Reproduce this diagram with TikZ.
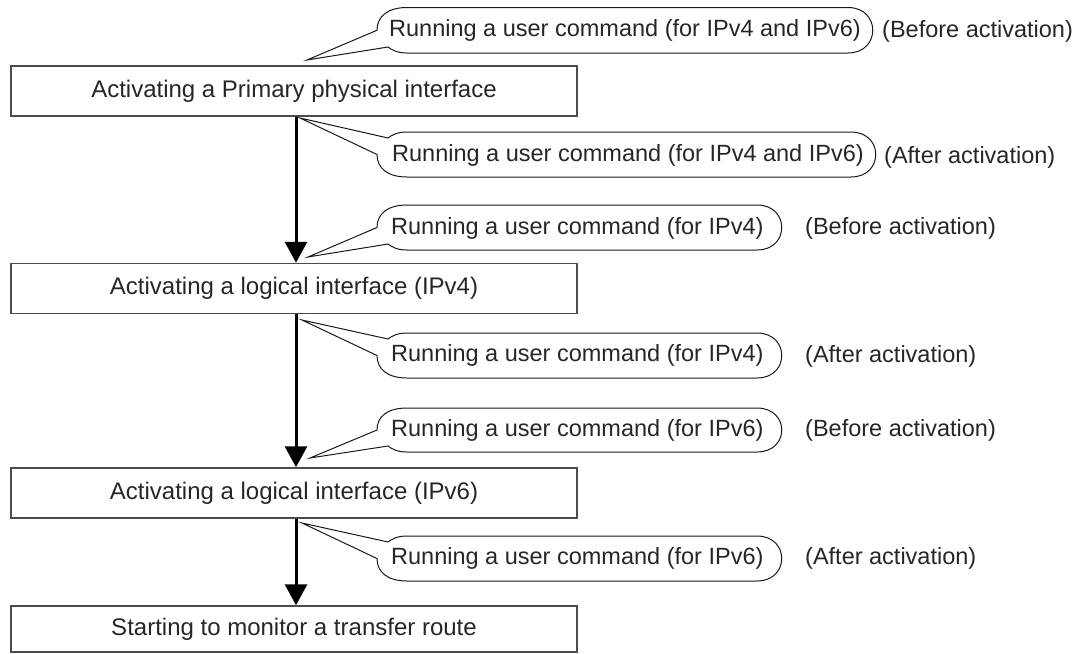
\documentclass[tikz,border=0pt]{standalone}
\usepackage{fontspec}
\setmainfont{Liberation Sans}
\usetikzlibrary{arrows.meta}
\newcommand{\balloonbefore}[4]{% #1 top, #2 bottom, #3 right, #4 tip
  \draw[balloon] (407,#1) -- ({#3-25},#1) .. controls ({#3+8},#1) and ({#3+8},#2) .. ({#3-25},#2)
    -- (407,#2) .. controls (397,#2) and (392,{#2-3}) .. (388,{#2-6}) -- (#4)
    -- (377,{(#1+#2)/2}) .. controls (377,{(#1+#2)/2-14}) and (388,#1) .. (407,#1) -- cycle;}
\newcommand{\balloonafter}[4]{% #1 top, #2 bottom, #3 right, #4 tip
  \draw[balloon] (407,#2) -- ({#3-25},#2) .. controls ({#3+8},#2) and ({#3+8},#1) .. ({#3-25},#1)
    -- (407,#1) .. controls (397,#1) and (392,{#1+3}) .. (388,{#1+6}) -- (#4)
    -- (377,{(#1+#2)/2}) .. controls (377,{(#1+#2)/2+14}) and (388,#2) .. (407,#2) -- cycle;}
\begin{document}
\begin{tikzpicture}[x=1pt,y=-1pt,
  procbox/.style={draw=black!70, line width=1.5pt, minimum width=566pt, minimum height=50pt,
    inner sep=0pt, font=\fontsize{24}{28}\selectfont, text=black!85},
  balloon/.style={draw=black!90, line width=1pt},
  btext/.style={anchor=west, inner sep=0pt, font=\fontsize{23.5}{28}\selectfont, text=black!85},
  flow/.style={line width=3pt, -{Triangle[width=22pt,length=21pt]}}]
\useasboundingbox (0,0) rectangle (1078,653);

% process boxes
\node[procbox] (b1) at (294,91) {Activating a Primary physical interface};
\node[procbox] (b2) at (294,288.5) {Activating a logical interface (IPv4)};
\node[procbox] (b3) at (294,493) {Activating a logical interface (IPv6)};
\node[procbox, minimum height=46pt] (b4) at (294,629) {Starting to monitor a transfer route};

% flow arrows
\draw[flow] ([xshift=2pt]b1.south) -- ([xshift=2pt]b2.north);
\draw[flow] ([xshift=2pt]b2.south) -- ([xshift=2pt]b3.north);
\draw[flow] ([xshift=2pt]b3.south) -- ([xshift=2pt]b4.north);

% balloon tips
\coordinate (t1) at (307,60);
\coordinate (t2) at (300,118);
\coordinate (t3) at (308,257);
\coordinate (t4) at (302,320);
\coordinate (t5) at (310,458);
\coordinate (t6) at (302,523);

% balloons
\balloonbefore{7.5}{53}{873}{t1}
\balloonafter{132}{177}{876}{t2}
\balloonbefore{205}{250}{782}{t3}
\balloonafter{333}{378}{782}{t4}
\balloonbefore{408}{452}{782}{t5}
\balloonafter{536}{581}{782}{t6}

% balloon texts
\node[btext] (c1) at (389,30.5) {Running a user command (for IPv4 and IPv6)};
\node[btext] (c2) at (392,155) {Running a user command (for IPv4 and IPv6)};
\node[btext] (c3) at (391,228) {Running a user command (for IPv4)};
\node[btext] (c4) at (391,355.5) {Running a user command (for IPv4)};
\node[btext] (c5) at (391,430) {Running a user command (for IPv6)};
\node[btext] (c6) at (391,558.5) {Running a user command (for IPv6)};

% timing labels
\node[btext] (l1) at (882,31) {(Before activation)};
\node[btext] (l2) at (884,157) {(After activation)};
\node[btext] (l3) at (805,228) {(Before activation)};
\node[btext] (l4) at (805,356) {(After activation)};
\node[btext] (l5) at (805,430) {(Before activation)};
\node[btext] (l6) at (805,558) {(After activation)};
\end{tikzpicture}
\end{document}
